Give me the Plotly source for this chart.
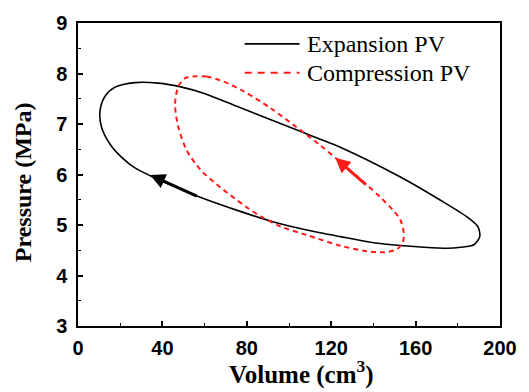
import plotly.graph_objects as go

# Expansion PV loop (black, solid)
exp_vol = [10.4, 12.8, 17.6, 27, 38.1, 49.2, 59.5, 75.3, 91.1, 103.8, 114.8, 124.3,
           152.8, 171.8, 184.4, 189.5, 190.4, 187.6, 181.3, 175, 163.9, 154.4, 140.1,
           124.3, 108.5, 92.7, 76.9, 57.9, 46.8, 35, 27, 20.7, 15.2, 11.2, 10.4]
exp_p = [7.25, 7.55, 7.73, 7.82, 7.81, 7.73, 7.61, 7.35, 7.09, 6.88, 6.70, 6.54,
         5.95, 5.49, 5.16, 4.97, 4.77, 4.61, 4.56, 4.54, 4.56, 4.59, 4.65,
         4.77, 4.90, 5.06, 5.27, 5.55, 5.74, 5.96, 6.13, 6.34, 6.60, 6.93, 7.25]

# Compression PV loop (red, dashed)
comp_vol = [54.7, 61, 69, 78.4, 91.1, 103.8, 114.8, 122.8, 129, 137, 143.3, 149.6,
            152.8, 154.4, 154, 151.2, 144.9, 137, 124.3, 108.5, 96, 87, 80, 74.5,
            65.8, 57.9, 51.6, 47.6, 46, 47.6, 50.8, 54.7]
comp_p = [7.94, 7.94, 7.84, 7.65, 7.32, 6.93, 6.58, 6.30, 6.08, 5.79, 5.55, 5.28,
          5.10, 4.84, 4.67, 4.52, 4.46, 4.48, 4.59, 4.80, 4.97, 5.16, 5.35, 5.52,
          5.80, 6.10, 6.47, 6.93, 7.39, 7.75, 7.91, 7.94]

# Direction arrows: (tail, head)
exp_arrow = [(57.0, 5.56), (34.2, 5.99)]
comp_arrow = [(137.0, 5.78), (121.9, 6.33)]

x_ticks = [0, 40, 80, 120, 160, 200]
y_ticks = [3, 4, 5, 6, 7, 8, 9]
legend_names = ["Expansion PV", "Compression PV"]

BLACK = "#000000"
RED = "#ff1a1a"
TICKFONT = dict(family="Liberation Sans, Arial", size=20, color="black", weight="bold")
SERIF = "Liberation Serif, Times New Roman"

fig = go.Figure()
fig.add_trace(go.Scatter(x=exp_vol, y=exp_p, mode="lines", name=legend_names[0],
                         line=dict(color=BLACK, width=1.6, shape="spline", smoothing=0.8),
                         showlegend=False))
fig.add_trace(go.Scatter(x=comp_vol, y=comp_p, mode="lines", name=legend_names[1],
                         line=dict(color=RED, width=2, dash="5px,4px", shape="spline", smoothing=0.8),
                         showlegend=False))

for arr, col in [(exp_arrow, BLACK), (comp_arrow, RED)]:
    (tx, ty), (hx, hy) = arr
    fig.add_annotation(x=hx, y=hy, ax=tx, ay=ty, xref="x", yref="y", axref="x", ayref="y",
                       showarrow=True, arrowhead=2, arrowsize=1.0, arrowwidth=3,
                       arrowcolor=col, text="")

# Manual legend
rows = [(0.931, BLACK, "solid"), (0.836, RED, "7px,6px")]
for (yp, col, dash), name in zip(rows, legend_names):
    fig.add_shape(type="line", xref="paper", yref="paper", x0=0.395, x1=0.525, y0=yp, y1=yp,
                  line=dict(color=col, width=1.6 if dash == "solid" else 2, dash=dash))
    fig.add_annotation(x=0.537, y=yp, xref="paper", yref="paper", xanchor="left", yanchor="middle",
                       text=name, showarrow=False, font=dict(family=SERIF, size=24, color="black"))

# Axis titles
fig.add_annotation(x=0.53, y=-0.152, xref="paper", yref="paper", xanchor="center", yanchor="middle",
                   text="Volume (cm<sup>3</sup>)", showarrow=False,
                   font=dict(family=SERIF, size=25, color="black", weight="bold"))
fig.add_annotation(x=-0.13, y=0.475, xref="paper", yref="paper", xanchor="center", yanchor="middle",
                   text="Pressure (MPa)", textangle=-90, showarrow=False,
                   font=dict(family=SERIF, size=24, color="black", weight="bold"))

axis_common = dict(showline=True, linecolor="black", linewidth=1.5, mirror=True,
                   ticks="inside", ticklen=5, tickwidth=1.5, tickcolor="black",
                   showgrid=False, zeroline=False, tickfont=TICKFONT)

fig.update_xaxes(range=[0, 200], tickvals=x_ticks, ticktext=[str(v) for v in x_ticks],
                 minor=dict(ticks="inside", ticklen=3, tickwidth=1.2, dtick=20, tick0=0, tickcolor="black"),
                 ticklabelstandoff=3, **axis_common)
fig.update_yaxes(range=[3, 9], tickvals=y_ticks, ticktext=[str(v) for v in y_ticks],
                 minor=dict(ticks="inside", ticklen=3, tickwidth=1.2, dtick=0.5, tick0=3, tickcolor="black"),
                 ticklabelstandoff=5, **axis_common)

fig.update_layout(width=529, height=392, margin=dict(l=78, r=28, t=21, b=66),
                  paper_bgcolor="white", plot_bgcolor="white", showlegend=False)

fig.write_html("out.html")
